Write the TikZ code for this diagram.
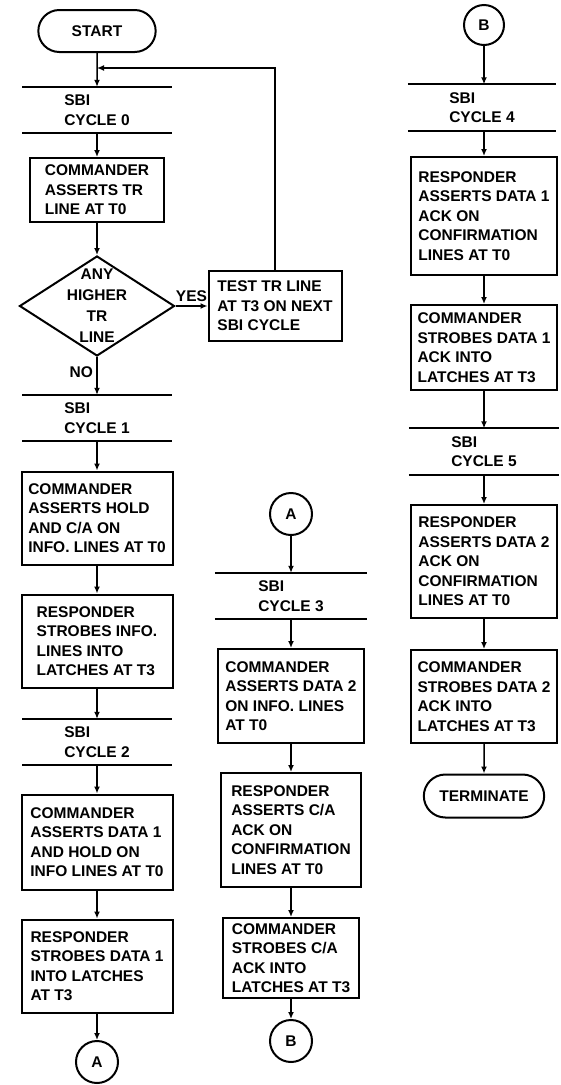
\documentclass[tikz,border=0pt]{standalone}
\usepackage{fontspec}
\setmainfont{Liberation Sans}
\usetikzlibrary{arrows.meta,shapes.geometric,shapes.misc}

\begin{document}
\begin{tikzpicture}[x=1pt, y=-1pt,
    font=\fontsize{15.5}{19.5}\selectfont\bfseries,
    box/.style={draw, line width=2pt, align=left, inner sep=3pt, minimum width=151pt},
    term/.style={draw, line width=2pt, rounded rectangle, minimum width=124pt, minimum height=42pt},
    conn/.style={draw, line width=2pt, circle, minimum size=42pt, inner sep=0pt},
    cyc/.style={align=left, minimum width=149pt, minimum height=46pt, inner sep=0pt,
        append after command={(\tikzlastnode.north west) edge[line width=2.2pt] (\tikzlastnode.north east)
            (\tikzlastnode.south west) edge[line width=2.2pt] (\tikzlastnode.south east)}},
    flow/.style={line width=1.5pt, -{Latex[length=7pt,width=6pt]}}]
    \useasboundingbox (0,0) rectangle (561,1085);

    \node[term] (s) at (97,31) {START};
    \coordinate (m) at (97,68);
    \node[cyc] (c0) at (97,110) {SBI\\CYCLE 0};
    \node[box, minimum width=134pt, minimum height=64pt] (tr) at (97,190) {COMMANDER\\ASSERTS TR\\LINE AT T0};
    \node[diamond, draw, line width=2pt, minimum width=155pt, minimum height=100pt, inner sep=0pt,
        label={[align=center, font=\fontsize{15.5}{21}\selectfont\bfseries]center:ANY\\HIGHER\\TR\\LINE}] (hi) at (97,306) {};
    \node[box, minimum width=133pt, minimum height=70pt] (t) at (275,306) {TEST TR LINE\\AT T3 ON NEXT\\SBI CYCLE};
    \node[cyc] (c1) at (97,418) {SBI\\CYCLE 1};
    \node[box, minimum height=93pt] (b1) at (97,518) {COMMANDER\\ASSERTS HOLD\\AND C/A ON\\INFO. LINES AT T0};
    \node[box, minimum height=93pt] (b2) at (97,641) {RESPONDER\\STROBES INFO.\\LINES INTO\\LATCHES AT T3};
    \node[cyc] (c2) at (97,742) {SBI\\CYCLE 2};
    \node[box, minimum height=95pt] (b3) at (97,842) {COMMANDER\\ASSERTS DATA 1\\AND HOLD ON\\INFO LINES AT T0};
    \node[box, minimum height=93pt] (b4) at (97,966) {RESPONDER\\STROBES DATA 1\\INTO LATCHES\\AT T3};
    \node[conn] (ca1) at (97,1062) {A};

    \node[conn] (ca2) at (291,514) {A};
    \node[cyc, minimum width=152pt] (c3) at (291,596) {SBI\\CYCLE 3};
    \node[box, minimum width=146pt, minimum height=94pt] (d1) at (291,696) {COMMANDER\\ASSERTS DATA 2\\ON INFO. LINES\\AT T0};
    \node[box, minimum width=140pt, minimum height=114pt] (d2) at (291,830) {RESPONDER\\ASSERTS C/A\\ACK ON\\CONFIRMATION\\LINES AT T0};
    \node[box, minimum width=136pt, minimum height=80pt] (d3) at (291,958) {COMMANDER\\STROBES C/A\\ACK INTO\\LATCHES AT T3};
    \node[conn] (cb2) at (291,1041) {B};

    \node[conn, minimum size=40pt] (cb1) at (484,25) {B};
    \node[cyc, minimum width=148pt] (c4) at (482,107.5) {SBI\\CYCLE 4};
    \node[box, minimum width=146pt, minimum height=118pt] (e1) at (484,216) {RESPONDER\\ASSERTS DATA 1\\ACK ON\\CONFIRMATION\\LINES AT T0};
    \node[box, minimum width=146pt, minimum height=85pt] (e2) at (484,347.5) {COMMANDER\\STROBES DATA 1\\ACK INTO\\LATCHES AT T3};
    \node[cyc, minimum width=150pt] (c5) at (484,451.5) {SBI\\CYCLE 5};
    \node[box, minimum width=146pt, minimum height=113pt] (e3) at (484,561.5) {RESPONDER\\ASSERTS DATA 2\\ACK ON\\CONFIRMATION\\LINES AT T0};
    \node[box, minimum width=146pt, minimum height=93pt] (e4) at (484,696.5) {COMMANDER\\STROBES DATA 2\\ACK INTO\\LATCHES AT T3};
    \node[term, minimum width=127pt, minimum height=43pt] (e) at (484,796) {TERMINATE};

    \draw[flow] (s) -- (c0);
    \draw[flow] (t) |- (m);
    \draw[flow] (c0) -- (tr);
    \draw[flow] (tr) -- (hi);
    \draw[flow] (hi) -- node[above]{YES} (t);
    \draw[flow] (hi) -- node[left, pos=.4]{NO} (c1);
    \draw[flow] (c1) -- (b1);
    \draw[flow] (b1) -- (b2);
    \draw[flow] (b2) -- (c2);
    \draw[flow] (c2) -- (b3);
    \draw[flow] (b3) -- (b4);
    \draw[flow] (b4) -- (ca1);
    \draw[flow] (ca2) -- (c3);
    \draw[flow] (c3) -- (d1);
    \draw[flow] (d1) -- (d2);
    \draw[flow] (d2) -- (d3);
    \draw[flow] (d3) -- (cb2);
    \draw[flow] (cb1) -- (c4.north -| cb1);
    \draw[flow] (c4.south -| e1) -- (e1);
    \draw[flow] (e1) -- (e2);
    \draw[flow] (e2) -- (c5);
    \draw[flow] (c5) -- (e3);
    \draw[flow] (e3) -- (e4);
    \draw[flow] (e4) -- (e);
\end{tikzpicture}
\end{document}
